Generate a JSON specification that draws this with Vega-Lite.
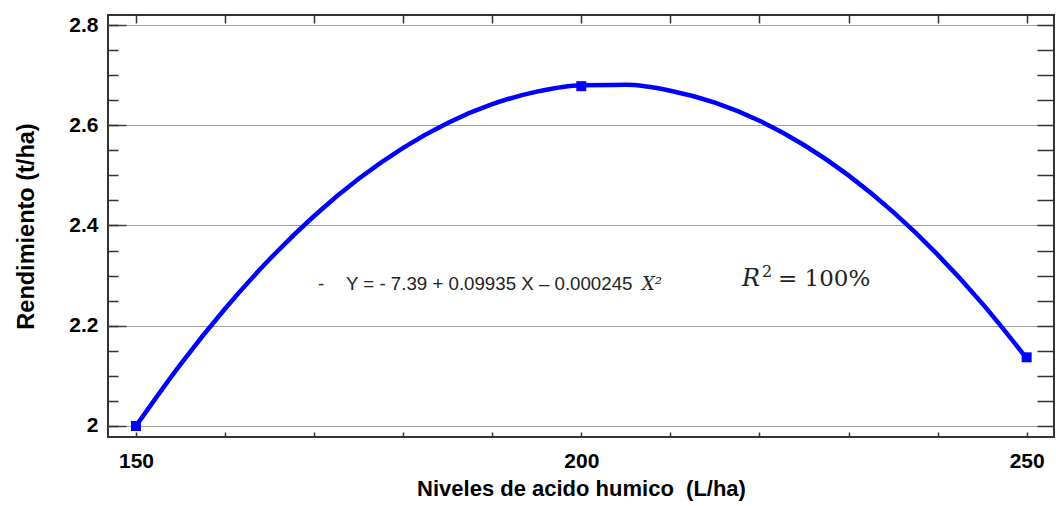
{
  "$schema": "https://vega.github.io/schema/vega-lite/v6.json",
  "width": 946,
  "height": 422,
  "autosize": {"type": "none"},
  "padding": {"left": 108, "top": 15, "right": 2, "bottom": 69},
  "background": "white",
  "config": {
    "view": {"stroke": "#333333", "strokeWidth": 2},
    "axis": {"domain": false, "labelColor": "#000000", "titleColor": "#000000", "labelFont": "Liberation Sans", "titleFont": "Liberation Sans"}
  },
  "datasets": {
    "curve": [
      {"x": 150, "y": 2.0}, {"x": 155, "y": 2.1231}, {"x": 160, "y": 2.234}, {"x": 165, "y": 2.3326},
      {"x": 170, "y": 2.419}, {"x": 175, "y": 2.4931}, {"x": 180, "y": 2.555}, {"x": 185, "y": 2.6046},
      {"x": 190, "y": 2.642}, {"x": 195, "y": 2.6671}, {"x": 200, "y": 2.68}, {"x": 205, "y": 2.6806},
      {"x": 210, "y": 2.669}, {"x": 215, "y": 2.6451}, {"x": 220, "y": 2.609}, {"x": 225, "y": 2.5606},
      {"x": 230, "y": 2.5}, {"x": 235, "y": 2.4271}, {"x": 240, "y": 2.342}, {"x": 245, "y": 2.2446},
      {"x": 250, "y": 2.135}
    ],
    "obs": [
      {"x": 150, "y": 2.0}, {"x": 200, "y": 2.678}, {"x": 250, "y": 2.137}
    ],
    "notes": [
      {"part": "dash", "x": 170.44, "y": 2.272, "label": "-"},
      {"part": "eq", "x": 173.58, "y": 2.272, "label": "Y = - 7.39 + 0.09935 X – 0.000245"},
      {"part": "eqx", "x": 206.81, "y": 2.272, "label": "X²"},
      {"part": "R", "x": 218.04, "y": 2.279, "label": "R"},
      {"part": "sup", "x": 220.3, "y": 2.297, "label": "2"},
      {"part": "pct", "x": 222.08, "y": 2.279, "label": "= 100%"}
    ]
  },
  "resolve": {"axis": {"x": "independent", "y": "independent"}},
  "layer": [
    {
      "data": {"name": "curve"},
      "mark": {"type": "line", "color": "#0000ff", "strokeWidth": 4.5, "interpolate": "monotone"},
      "encoding": {
        "x": {
          "field": "x", "type": "quantitative",
          "scale": {"domain": [146.86, 253.07], "nice": false, "zero": false},
          "axis": {
            "orient": "bottom", "values": [150, 160, 170, 180, 190, 200, 210, 220, 230, 240, 250],
            "labelExpr": "datum.value % 50 == 0 ? datum.label : ''",
            "grid": false, "tickSize": -5, "tickColor": "#333333", "tickWidth": 1.5,
            "labelFontSize": 21, "labelFontWeight": "bold", "labelPadding": 18,
            "title": "Niveles de acido humico \u00a0(L/ha)", "titleFontSize": 22, "titleFontWeight": "bold", "titlePadding": 7
          }
        },
        "y": {
          "field": "y", "type": "quantitative",
          "scale": {"domain": [1.978, 2.82], "nice": false, "zero": false},
          "axis": {
            "orient": "left", "values": [2.0, 2.2, 2.4, 2.6, 2.8], "format": "~g",
            "grid": true, "gridColor": "#a0a0a0", "gridWidth": 1.2,
            "tickSize": -18, "tickColor": "#444444", "tickWidth": 1.5,
            "labelFontSize": 21, "labelFontWeight": "bold", "labelPadding": 28,
            "title": "Rendimiento (t/ha)", "titleFontSize": 23.5, "titleFontWeight": "bold", "titlePadding": 30
          }
        }
      }
    },
    {
      "data": {"name": "obs"},
      "mark": {"type": "point", "shape": "square", "filled": true, "color": "#0000ff", "size": 100, "opacity": 1},
      "encoding": {
        "x": {
          "field": "x", "type": "quantitative",
          "axis": {"orient": "top", "values": [150, 160, 170, 180, 190, 200, 210, 220, 230, 240, 250], "labels": false, "grid": false, "tickSize": -8, "tickColor": "#333333", "tickWidth": 1.5, "title": null}
        },
        "y": {
          "field": "y", "type": "quantitative",
          "axis": {"orient": "right", "values": [2.0, 2.05, 2.1, 2.15, 2.2, 2.25, 2.3, 2.35, 2.4, 2.45, 2.5, 2.55, 2.6, 2.65, 2.7, 2.75, 2.8], "labels": false, "grid": false, "tickSize": -17, "tickColor": "#333333", "tickWidth": 1.5, "title": null}
        }
      }
    },
    {
      "data": {"name": "notes"},
      "transform": [{"filter": "datum.part == 'dash' || datum.part == 'eq'"}],
      "mark": {"type": "text", "align": "left", "baseline": "alphabetic", "font": "Liberation Sans", "fontSize": 18.7, "color": "#222222"},
      "encoding": {
        "x": {"field": "x", "type": "quantitative", "axis": null},
        "y": {
          "field": "y", "type": "quantitative",
          "axis": {"orient": "left", "values": [2.0, 2.05, 2.1, 2.15, 2.2, 2.25, 2.3, 2.35, 2.4, 2.45, 2.5, 2.55, 2.6, 2.65, 2.7, 2.75, 2.8], "labels": false, "grid": false, "tickSize": -10, "tickColor": "#333333", "tickWidth": 1.5, "title": null}
        },
        "text": {"field": "label"}
      }
    },
    {
      "data": {"name": "notes"},
      "transform": [{"filter": "datum.part == 'eqx'"}],
      "mark": {"type": "text", "align": "left", "baseline": "alphabetic", "font": "DejaVu Serif", "fontStyle": "italic", "fontSize": 18, "color": "#222222"},
      "encoding": {
        "x": {"field": "x", "type": "quantitative", "axis": null},
        "y": {"field": "y", "type": "quantitative", "axis": null},
        "text": {"field": "label"}
      }
    },
    {
      "data": {"name": "notes"},
      "transform": [{"filter": "datum.part == 'R'"}],
      "mark": {"type": "text", "align": "left", "baseline": "alphabetic", "font": "DejaVu Serif", "fontStyle": "italic", "fontSize": 24, "color": "#222222"},
      "encoding": {
        "x": {"field": "x", "type": "quantitative", "axis": null},
        "y": {"field": "y", "type": "quantitative", "axis": null},
        "text": {"field": "label"}
      }
    },
    {
      "data": {"name": "notes"},
      "transform": [{"filter": "datum.part == 'sup'"}],
      "mark": {"type": "text", "align": "left", "baseline": "alphabetic", "font": "DejaVu Serif", "fontSize": 16, "color": "#222222"},
      "encoding": {
        "x": {"field": "x", "type": "quantitative", "axis": null},
        "y": {"field": "y", "type": "quantitative", "axis": null},
        "text": {"field": "label"}
      }
    },
    {
      "data": {"name": "notes"},
      "transform": [{"filter": "datum.part == 'pct'"}],
      "mark": {"type": "text", "align": "left", "baseline": "alphabetic", "font": "DejaVu Serif", "fontSize": 23, "color": "#222222"},
      "encoding": {
        "x": {"field": "x", "type": "quantitative", "axis": null},
        "y": {"field": "y", "type": "quantitative", "axis": null},
        "text": {"field": "label"}
      }
    }
  ]
}
